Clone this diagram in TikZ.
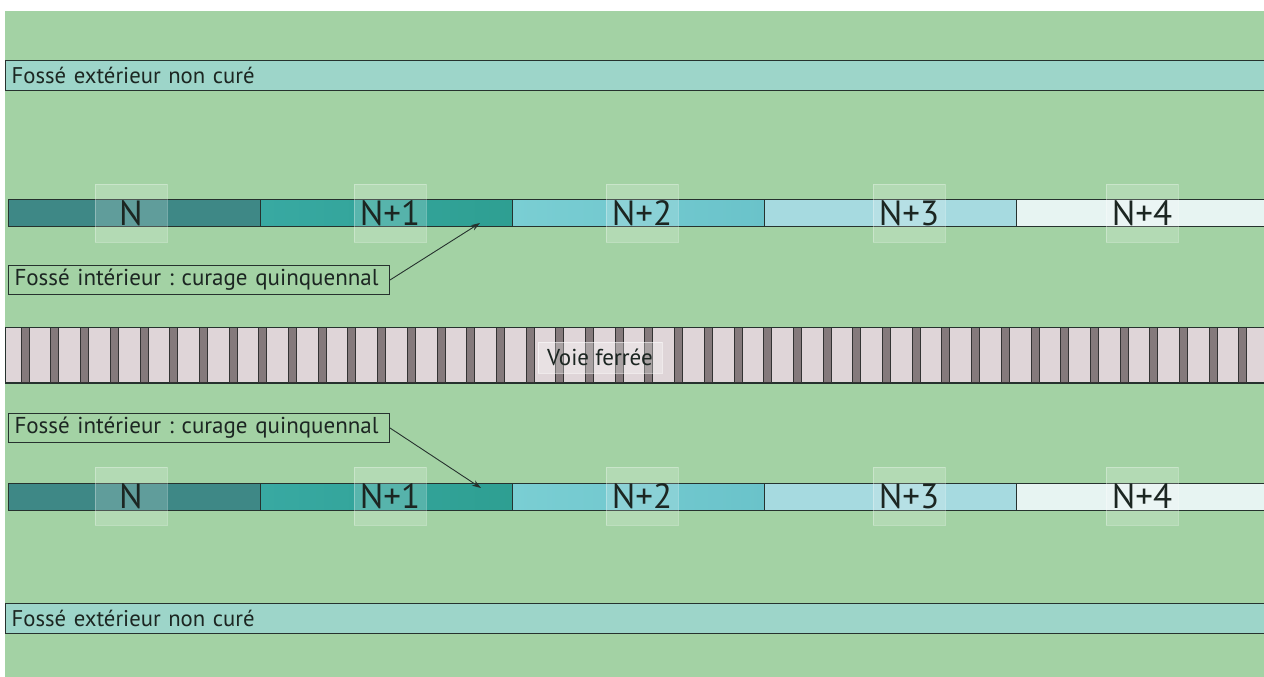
\documentclass[tikz,border=0pt]{standalone}
\usepackage{fontspec}
\setmainfont{PT Sans}
\usetikzlibrary{arrows.meta}
\definecolor{bggreen}{HTML}{A3D2A4}
\definecolor{outerfill}{HTML}{9DD5C9}
\definecolor{segA}{HTML}{3E8886}
\definecolor{segB}{HTML}{38A9A2}
\definecolor{segBr}{HTML}{2E9F92}
\definecolor{segC}{HTML}{7ACED3}
\definecolor{segCr}{HTML}{6AC3CA}
\definecolor{segD}{HTML}{A6DAE0}
\definecolor{segE}{HTML}{E7F4F2}
\definecolor{railfill}{HTML}{DFD5D8}
\definecolor{sleeper}{HTML}{857A7C}
\definecolor{edge}{HTML}{26322E}
\definecolor{ink}{HTML}{1C2622}
\tikzset{
  outerbox/.style={draw=edge, line width=1.4pt, fill=outerfill, anchor=north west,
    minimum height=30pt, text width=1247pt, inner xsep=6pt, inner ysep=0pt, align=left,
    text=ink, font=\fontsize{22.7}{24}\selectfont\frenchspacing},
  segbox/.style={draw=edge, line width=1pt, anchor=north west, minimum width=252pt,
    minimum height=27pt, inner sep=0pt},
  labsq/.style={fill=white, fill opacity=0.18, draw=white, draw opacity=0.3, text opacity=1,
    text=ink, minimum width=72pt, minimum height=58pt, inner sep=0pt,
    font=\fontsize{35}{36}\selectfont},
  callout/.style={draw=edge, line width=1pt, anchor=north west, text width=369pt,
    minimum height=29pt, inner xsep=6pt, inner ysep=0pt, align=left, text=ink,
    font=\fontsize{23}{24}\selectfont\frenchspacing},
  pointer/.style={draw=edge, line width=0.9pt, -{Stealth[length=9pt,width=6pt]}},
  railbox/.style={draw=edge, line width=1pt, fill=railfill, anchor=north west,
    minimum width=1259pt, minimum height=55pt, inner sep=0pt},
  sleeperbar/.style={fill=sleeper, draw=black!80, line width=0.6pt},
  raillab/.style={fill=white, fill opacity=0.3, draw=white, draw opacity=0.5, text opacity=1,
    text=ink, minimum width=124pt, minimum height=31pt, inner sep=0pt,
    font=\fontsize{23}{24}\selectfont}
}
\begin{document}
\begin{tikzpicture}[x=1pt,y=-1pt]
\useasboundingbox (0,0) rectangle (1264,677);
\fill[white] (0,0) rectangle (1264,677);
\fill[bggreen] (5,11) rectangle (1264,677);

% outer ditches
\node[outerbox] (outerT) at (5,60) {Fossé extérieur non curé};
\node[outerbox] (outerB) at (5,603) {Fossé extérieur non curé};

% top inner ditch
\node[segbox, left color=segA, right color=segA] (tN) at (8,199) {};
\node[segbox, left color=segB, right color=segBr] (tN1) at (260,199) {};
\node[segbox, left color=segC, right color=segCr] (tN2) at (512,199) {};
\node[segbox, fill=segD] (tN3) at (764,199) {};
\node[segbox, fill=segE] (tN4) at (1016,199) {};
\node[labsq] (tNl) at (131,213) {N};
\node[labsq] (tN1l) at (390,213) {N+1};
\node[labsq] (tN2l) at (642,213) {N+2};
\node[labsq] (tN3l) at (909,213) {N+3};
\node[labsq] (tN4l) at (1142,213) {N+4};

% bottom inner ditch
\node[segbox, left color=segA, right color=segA] (bN) at (8,483) {};
\node[segbox, left color=segB, right color=segBr] (bN1) at (260,483) {};
\node[segbox, left color=segC, right color=segCr] (bN2) at (512,483) {};
\node[segbox, fill=segD] (bN3) at (764,483) {};
\node[segbox, fill=segE] (bN4) at (1016,483) {};
\node[labsq] (bNl) at (131,496) {N};
\node[labsq] (bN1l) at (390,496) {N+1};
\node[labsq] (bN2l) at (642,496) {N+2};
\node[labsq] (bN3l) at (909,496) {N+3};
\node[labsq] (bN4l) at (1142,496) {N+4};

% railway
\node[railbox] (rail) at (5,327) {};
\foreach \k in {0,...,42} {
  \filldraw[sleeperbar] ({21+29.7*\k},327) rectangle ++(8,55);
}
\draw[edge, line width=1pt] (rail.north west) -- (rail.north east);
\draw[edge, line width=1pt] (rail.south west) -- (rail.south east);
\node[raillab] (railLab) at (600,357.5) {Voie ferrée};

% callouts
\node[callout] (calT) at (8,265) {\mbox{Fossé intérieur : curage quinquennal}};
\coordinate (arrT) at (480,223);
\draw[pointer] (calT.east) -- (arrT);
\node[callout] (calB) at (8,413) {\mbox{Fossé intérieur : curage quinquennal}};
\coordinate (arrB) at (481,488);
\draw[pointer] (calB.east) -- (arrB);
\end{tikzpicture}
\end{document}
